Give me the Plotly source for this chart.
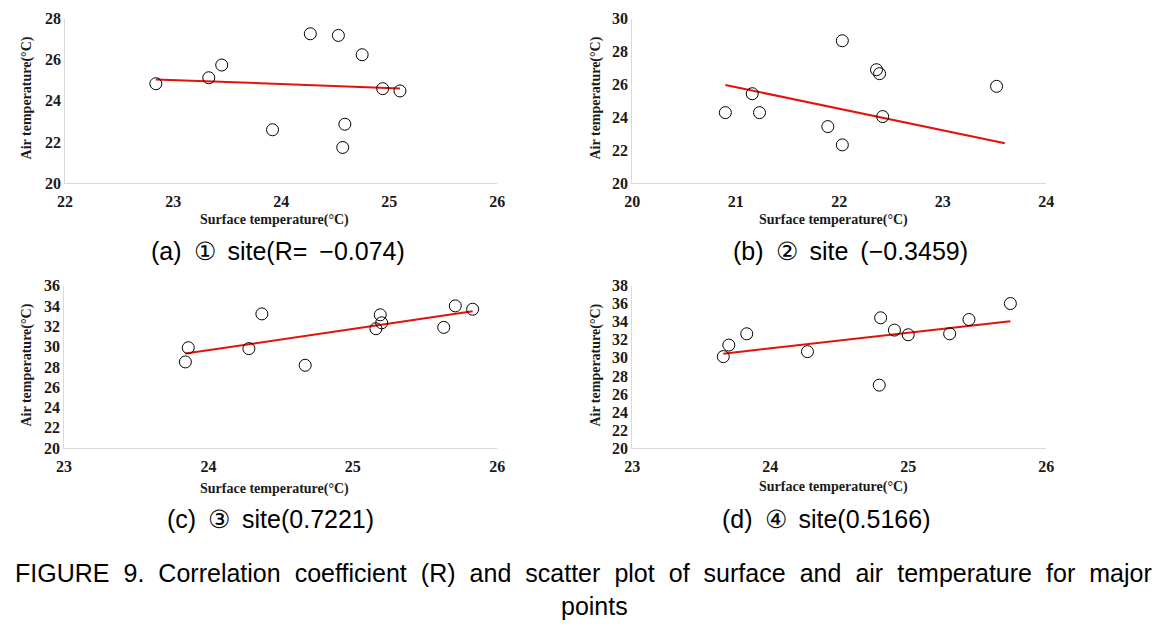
import plotly.graph_objects as go

# ---- data ----
a_surface = [22.84, 23.33, 23.45, 23.92, 24.27, 24.53, 24.75, 24.59, 24.57, 24.94, 25.10]
a_air     = [24.83, 25.12, 25.74, 22.59, 27.26, 27.18, 26.24, 22.86, 21.73, 24.59, 24.48]
a_trend_x = [22.84, 25.10]
a_trend_y = [25.04, 24.60]

b_surface = [20.90, 21.16, 21.23, 21.89, 22.03, 22.03, 22.36, 22.39, 22.42, 23.52]
b_air     = [24.28, 25.43, 24.28, 23.43, 28.65, 22.32, 26.89, 26.65, 24.04, 25.88]
b_trend_x = [20.90, 23.60]
b_trend_y = [25.96, 22.42]

c_surface = [23.84, 23.86, 24.28, 24.37, 24.67, 25.16, 25.19, 25.20, 25.63, 25.71, 25.83]
c_air     = [28.49, 29.89, 29.80, 33.22, 28.16, 31.76, 33.13, 32.34, 31.89, 34.01, 33.68]
c_trend_x = [23.84, 25.83]
c_trend_y = [29.31, 33.49]

d_surface = [23.66, 23.70, 23.83, 24.27, 24.79, 24.80, 24.90, 25.00, 25.30, 25.44, 25.74]
d_air     = [30.14, 31.42, 32.67, 30.69, 26.98, 34.44, 33.08, 32.56, 32.67, 34.25, 36.02]
d_trend_x = [23.66, 25.74]
d_trend_y = [30.47, 34.07]

x_ranges = [[22, 26], [20, 24], [23, 26], [23, 26]]
y_ranges = [[20, 28], [20, 30], [20, 36], [20, 38]]

captions = ["(a)  \u2460  site(R=  \u22120.074)", "(b)  \u2461  site  (\u22120.3459)",
            "(c)  \u2462  site(0.7221)", "(d)  \u2463  site(0.5166)"]
figure_title = "FIGURE 9. Correlation coefficient (R) and scatter plot of surface and air temperature for major"
figure_title2 = "points"
x_title = "Surface temperature(\u00b0C)"
y_title = "Air temperature(\u00b0C)"

# ---- layout geometry (pixels) ----
W, H = 1155, 624


def PX(p):  # horizontal pixel -> paper fraction (with render compensation)
    return ((p - 7.9) / 0.986) / W


def PY(p):  # vertical pixel from top -> paper fraction
    return 1 - ((p - 6.4) / 0.976) / H


boxes = [  # x0, x1, ytop, ybottom
    (65, 497, 17, 182),
    (632, 1046, 17, 182),
    (64, 497, 285, 448),
    (632, 1046, 285, 448),
]
xtitle_pos = [(274, 219), (833, 219), (274, 489), (833, 487)]
ytitle_pos = [(27, 97), (596, 97), (27, 365), (596, 365)]
cap_pos = [(278, 250), (850, 250), (270, 519), (826, 519)]

series = [
    (a_surface, a_air, a_trend_x, a_trend_y),
    (b_surface, b_air, b_trend_x, b_trend_y),
    (c_surface, c_air, c_trend_x, c_trend_y),
    (d_surface, d_air, d_trend_x, d_trend_y),
]

fig = go.Figure()
axfont = dict(family="Liberation Serif", size=16, color="#1a1a1a", weight="bold")
capfont = dict(family="Liberation Sans", size=25, color="#000000")
layout = {}
annotations = []
for i, (sx, sy, tx, ty) in enumerate(series):
    n = "" if i == 0 else str(i + 1)
    xa, ya = "x" + n, "y" + n
    fig.add_trace(go.Scatter(x=tx, y=ty, mode="lines", xaxis=xa, yaxis=ya,
                             line=dict(color="#e3120b", width=2), showlegend=False))
    fig.add_trace(go.Scatter(x=sx, y=sy, mode="markers", xaxis=xa, yaxis=ya,
                             marker=dict(symbol="circle-open", size=12, color="#000000",
                                         line=dict(width=1, color="#000000")),
                             showlegend=False))
    x0, x1, yt, yb = boxes[i]
    layout["xaxis" + n] = dict(domain=[PX(x0), PX(x1)], range=x_ranges[i], anchor=ya,
                               dtick=1, showgrid=False, zeroline=False, showline=True,
                               linecolor="#d9d9d9", linewidth=1, ticks="outside",
                               ticklen=4, tickcolor="rgba(0,0,0,0)", tickfont=axfont)
    layout["yaxis" + n] = dict(domain=[PY(yb), PY(yt)], range=y_ranges[i], anchor=xa,
                               dtick=2, showgrid=False, zeroline=False, showline=True,
                               linecolor="#d9d9d9", linewidth=1, ticks="",
                               tickfont=axfont)
    px, py = xtitle_pos[i]
    annotations.append(dict(text=x_title, x=PX(px), y=PY(py), xref="paper", yref="paper",
                            showarrow=False, xanchor="center", yanchor="middle",
                            font=dict(family="Liberation Serif", size=14, color="#1a1a1a", weight="bold")))
    px, py = ytitle_pos[i]
    annotations.append(dict(text=y_title, x=PX(px), y=PY(py), xref="paper", yref="paper",
                            showarrow=False, xanchor="center", yanchor="middle", textangle=-90,
                            font=dict(family="Liberation Serif", size=14, color="#1a1a1a", weight="bold")))
    px, py = cap_pos[i]
    annotations.append(dict(text=captions[i].replace("  ", " \u2009"), x=PX(px), y=PY(py),
                            xref="paper", yref="paper", showarrow=False,
                            xanchor="center", yanchor="middle", font=capfont))

annotations.append(dict(text=figure_title.replace(" ", " \u2009\u200a"), x=PX(583), y=PY(573),
                        xref="paper", yref="paper", showarrow=False,
                        xanchor="center", yanchor="middle", font=capfont))
annotations.append(dict(text=figure_title2, x=PX(594), y=PY(606), xref="paper", yref="paper",
                        showarrow=False, xanchor="center", yanchor="middle", font=capfont))

fig.update_layout(width=W, height=H, margin=dict(l=0, r=0, t=0, b=0),
                  paper_bgcolor="white", plot_bgcolor="white",
                  annotations=annotations, **layout)
fig.write_html("out.html", config={"displayModeBar": False},
               post_script="document.body.style.margin='0px';")
